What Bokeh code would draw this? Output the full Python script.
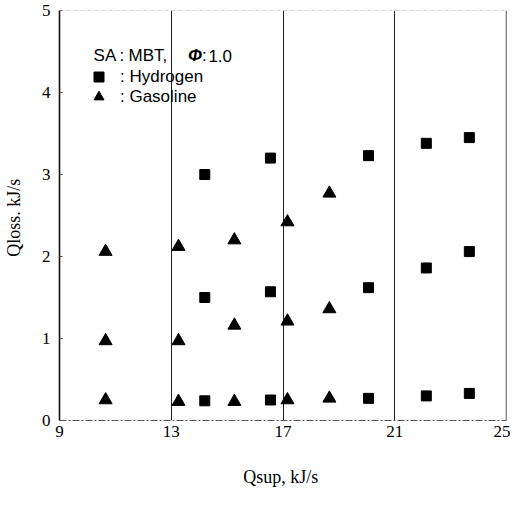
from bokeh.plotting import figure
from bokeh.models import FixedTicker, Legend, LegendItem, Label, Range1d, Span
from bokeh.embed import file_html
from bokeh.resources import INLINE

# ---- data ----
x_ticks = [9, 13, 17, 21, 25]
y_ticks = [0, 1, 2, 3, 4, 5]
grid_ticks = [13, 17, 21]

hydrogen_qsup = [14.2, 16.55, 20.06, 22.13, 23.67]
hydrogen_high = [3.00, 3.20, 3.23, 3.38, 3.45]
hydrogen_mid = [1.50, 1.57, 1.62, 1.86, 2.06]
hydrogen_low = [0.24, 0.25, 0.27, 0.30, 0.33]

gasoline_qsup = [10.65, 13.26, 15.26, 17.16, 18.66]
gasoline_high = [2.06, 2.12, 2.20, 2.42, 2.77]
gasoline_mid = [0.97, 0.97, 1.16, 1.21, 1.36]
gasoline_low = [0.25, 0.23, 0.23, 0.25, 0.27]

h_x = hydrogen_qsup * 3
h_y = hydrogen_high + hydrogen_mid + hydrogen_low
g_x = gasoline_qsup * 3
g_y = gasoline_high + gasoline_mid + gasoline_low

SERIF = "Liberation Serif"
SANS = "Liberation Sans"

p = figure(frame_width=447, frame_height=410, output_backend="svg", toolbar_location=None,
           x_range=Range1d(x_ticks[0], x_ticks[-1]), y_range=Range1d(y_ticks[0], y_ticks[-1]),
           min_border_left=53, min_border_right=4, min_border_top=10, min_border_bottom=0)
p.background_fill_color = "white"
p.border_fill_color = "white"
p.outline_line_color = None

# axes
p.xaxis.ticker = FixedTicker(ticks=x_ticks)
p.yaxis.ticker = FixedTicker(ticks=y_ticks)
p.xaxis.axis_label = "Qsup,  kJ/s"
p.yaxis.axis_label = "Qloss.  kJ/s"
for ax in (p.xaxis[0], p.yaxis[0]):
    ax.axis_label_text_font = SERIF
    ax.axis_label_text_font_style = "normal"
    ax.axis_label_text_font_size = "18px"
    ax.axis_label_text_color = "black"
    ax.major_label_text_font = SERIF
    ax.major_label_text_font_size = "17px"
    ax.major_label_text_color = "black"
    ax.minor_tick_line_color = None
    ax.major_tick_out = 0
p.xaxis.major_tick_in = 0
p.yaxis.major_tick_in = 3
p.yaxis.major_tick_line_color = "#555555"
p.xaxis.major_label_standoff = 5
p.xaxis.axis_label_standoff = 27
p.yaxis.major_label_standoff = 9
p.yaxis.axis_label_standoff = 15
p.yaxis.axis_line_color = "#111111"
p.yaxis.axis_line_width = 1.6
p.xaxis.axis_line_color = "#555555"
p.xaxis.axis_line_width = 1
p.xaxis.axis_line_dash = "7 2 2 2"

# frame borders: top dashed faint, right solid
p.add_layout(Span(location=y_ticks[-1], dimension="width", line_color="#aaaaaa",
                  line_dash="4 3", line_width=1))
p.add_layout(Span(location=x_ticks[-1], dimension="height", line_color="#111111",
                  line_width=1.4))

# grid
p.xgrid.ticker = FixedTicker(ticks=grid_ticks)
p.xgrid.grid_line_color = "#222222"
p.xgrid.grid_line_width = 1
p.ygrid.grid_line_color = None

r_h = p.scatter(h_x, h_y, marker="square", size=10, color="black")
r_g = p.scatter(g_x, g_y, marker="triangle", size=13, color="black")

# legend header line
hdr = dict(text_font=SANS, text_font_size="17px", text_baseline="middle", text_color="black")
hy = 4.45
p.add_layout(Label(x=10.22, y=hy, text="SA", **hdr))
p.add_layout(Label(x=11.15, y=hy, text=":", **hdr))
p.add_layout(Label(x=11.47, y=hy, text="MBT,", **hdr))
p.add_layout(Label(x=13.6, y=hy, text="Φ", text_font_style="bold italic", **hdr))
p.add_layout(Label(x=14.1, y=hy, text=":", **hdr))
p.add_layout(Label(x=14.33, y=hy, text="1.0", **hdr))


def make_legend(label, renderer, loc):
    lg = Legend(items=[LegendItem(label=label, renderers=[renderer])], location=loc)
    lg.background_fill_alpha = 0
    lg.border_line_color = None
    lg.padding = 0
    lg.margin = 0
    lg.glyph_width = 25
    lg.glyph_height = 25
    lg.label_height = 25
    lg.label_standoff = 9
    lg.label_text_font = SANS
    lg.label_text_font_size = "17px"
    lg.label_text_color = "black"
    return lg


p.add_layout(make_legend(": Hydrogen", r_h, (27, 331)), "center")
p.add_layout(make_legend(": Gasoline", r_g, (27, 311)), "center")

open("out.html", "w").write(file_html(p, INLINE))
